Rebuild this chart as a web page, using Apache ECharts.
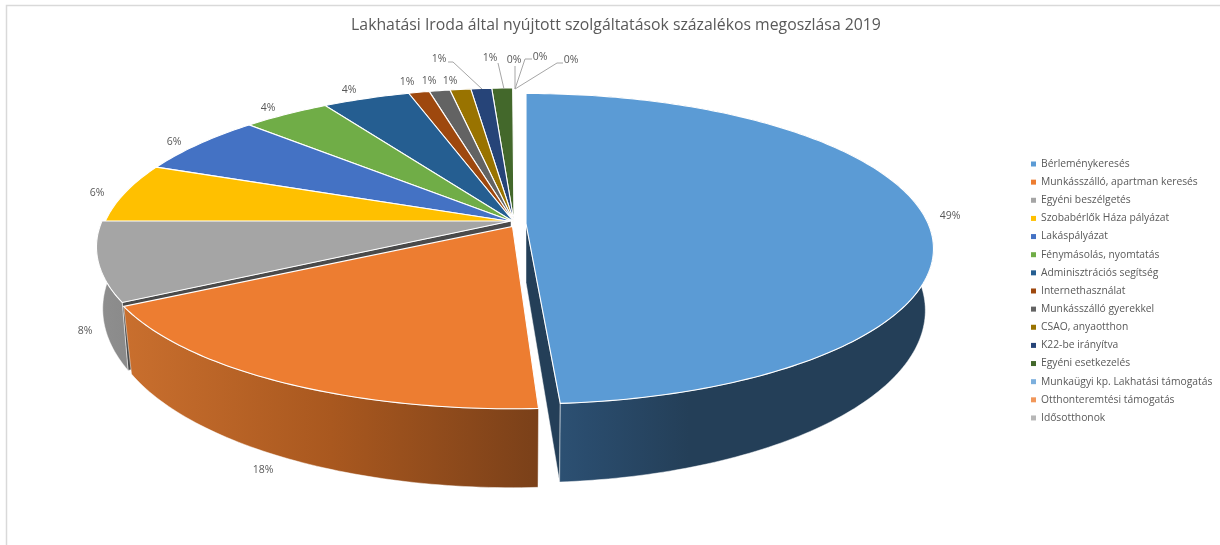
<!DOCTYPE html>
<html><head><meta charset="utf-8">
<style>html,body{margin:0;padding:0;background:#fff}#c{width:1220px;height:545px}</style>
<script src="https://cdn.jsdelivr.net/npm/echarts@6/dist/echarts.min.js"></script>
</head><body><div id="c"></div>
<script>
const categories = ['Bérleménykeresés','Munkásszálló, apartman keresés','Egyéni beszélgetés','Szobabérlők Háza pályázat','Lakáspályázat','Fénymásolás, nyomtatás','Adminisztrációs segítség','Internethasználat','Munkásszálló gyerekkel','CSAO, anyaotthon','K22-be irányítva','Egyéni esetkezelés','Munkaügyi kp. Lakhatási támogatás','Otthonteremtési támogatás','Idősotthonok'];
const values = [49,18,8,6.1,6.1,4,4,0.95,0.95,0.95,0.95,0.95,0.02,0.02,0.02];
const colors = ['#5B9BD5','#ED7D31','#A5A5A5','#FFC000','#4472C4','#70AD47','#255E91','#9E480E','#636363','#997300','#264478','#43682B','#7CAFDD','#F1975A','#B7B7B7'];
const drawOrder = [22,21,20,9,8,7,6,5,4,3,2,1,1,1,1];

// projection of the tilted disc
const disc = {cx:514, cy:222, R:409, sR:155.8, k:0.1625, lowX:0.98, lowY:1.109, lowDrop:59};
const sliceShift = {
  0:{dx:12,dy:1.5,sx:0.983,sy:0.97,trimEnd:0.48},
  1:{dx:-1.5,dy:4.5,sx:1,sy:0.98,trimStart:0.56},
  2:{dx:-3,dy:-1,sx:1,sy:1,lowX:0.985}
};
const wallFill = {
  0:[[0,'#2f5579'],[0.15,'#2a4c6d'],[0.4,'#243f58'],[1,'#243f58']],
  1:[[0,'#c96f2e'],[0.5,'#a9581f'],[1,'#7a4019']],
  2:[[0,'#8f8f8f'],[1,'#8a8a8a']]
};
const radialFace = {0:{color:'#243f58',edge:'end'}, 2:{color:'#4a4a4a',edge:'start'}};
const labelAt = [[950,216],[263,470],[85,331],[97,193],[174,142],[268,108],[349,90],[407,82],[429,81],[450,81],[439,59],[490,58],[514,60],[540,57],[571,60]];
const leaders = {10:[[448,62],[453,62],[482,89]],11:[[498,63],[504,89]],12:[[515,66],[515,89]],13:[[532,59],[525,59],[515,89]],14:[[563,63],[557,63],[515,89]]};

const total = values.reduce((a,b)=>a+b,0);
const starts = [];
values.reduce((acc,v,i)=>{starts[i]=acc;return acc+v;},0);
const DEG = Math.PI/180;

function uv(theta,s){
  const x=Math.sin(theta), y=-Math.cos(theta), d=1-disc.k*y;
  return [disc.R*s.sx*x/d, disc.sR*s.sy*y/d];
}
function renderItem(params,api){
  const i=params.seriesIndex, v=api.value(0);
  const s=sliceShift[i]||{dx:0,dy:0,sx:1,sy:1};
  const ax=disc.cx+s.dx, ay=disc.cy+s.dy, lx=s.lowX||disc.lowX;
  const a0=starts[i]/total*2*Math.PI+(s.trimStart||0)*DEG, a1=(starts[i]+v)/total*2*Math.PI-(s.trimEnd||0)*DEG;
  const n=Math.max(1,Math.ceil((a1-a0)/DEG));
  const top=[],low=[];
  for(let j=0;j<=n;j++){
    const p=uv(a0+(a1-a0)*j/n,s);
    top.push([ax+p[0],ay+p[1]]);
    low.push([ax+lx*p[0],ay+disc.lowY*p[1]+disc.lowDrop]);
  }
  const apexLow=[ax,ay+disc.lowDrop];
  const children=[];
  const face=radialFace[i];
  if(face){
    const e=face.edge==='end'?n:0;
    children.push({type:'polygon',shape:{points:[[ax,ay],top[e],low[e],apexLow]},
      style:{fill:face.color,stroke:'rgba(255,255,255,0.6)',lineWidth:0.8}});
  }
  if(wallFill[i]){
    children.push({type:'polygon',shape:{points:top.concat(low.slice().reverse())},
      style:{fill:new echarts.graphic.LinearGradient(0,0,1,0,wallFill[i].map(c=>({offset:c[0],color:c[1]}))),
      stroke:'rgba(255,255,255,0.6)',lineWidth:0.8}});
  }
  if(v>0.1){
    children.push({type:'polygon',shape:{points:[[ax,ay]].concat(top)},
      style:{fill:colors[i],stroke:'#ffffff',lineWidth:1.1}});
  }
  if(leaders[i]){
    children.push({type:'polyline',shape:{points:leaders[i]},style:{fill:null,stroke:'#a6a6a6',lineWidth:1}});
  }
  children.push({type:'text',style:{text:Math.round(v)+'%',x:labelAt[i][0],y:labelAt[i][1],
    align:'center',verticalAlign:'middle',fill:'#595959',font:'10.5px "Open Sans"'}});
  return {type:'group',children};
}

const chart=echarts.init(document.getElementById('c'),null,{renderer:'canvas'});
chart.setOption({
  animation:false,
  backgroundColor:'#fff',
  title:{text:'Lakhatási Iroda által nyújtott szolgáltatások százalékos megoszlása 2019',
    left:611,top:12,textAlign:'center',
    textStyle:{fontFamily:'Open Sans',fontWeight:'normal',fontSize:15.8,color:'#595959'}},
  legend:{orient:'vertical',left:1026,top:153,itemWidth:5,itemHeight:5,itemGap:6.14,
    icon:'rect',selectedMode:false,data:categories,
    textStyle:{fontFamily:'Open Sans',fontSize:10.3,color:'#595959',lineHeight:12,height:12}},
  graphic:[{type:'polyline',z:0,silent:true,shape:{points:[[6.5,546],[6.5,5.5],[1221,5.5]]},
    style:{fill:null,stroke:'#d9d9d9',lineWidth:1.5}}],
  series:categories.map((name,i)=>({
    type:'custom',name,coordinateSystem:'none',z:drawOrder[i],silent:true,
    itemStyle:{color:colors[i]},
    renderItem,
    data:[[values[i]]]
  }))
});
</script></body></html>
